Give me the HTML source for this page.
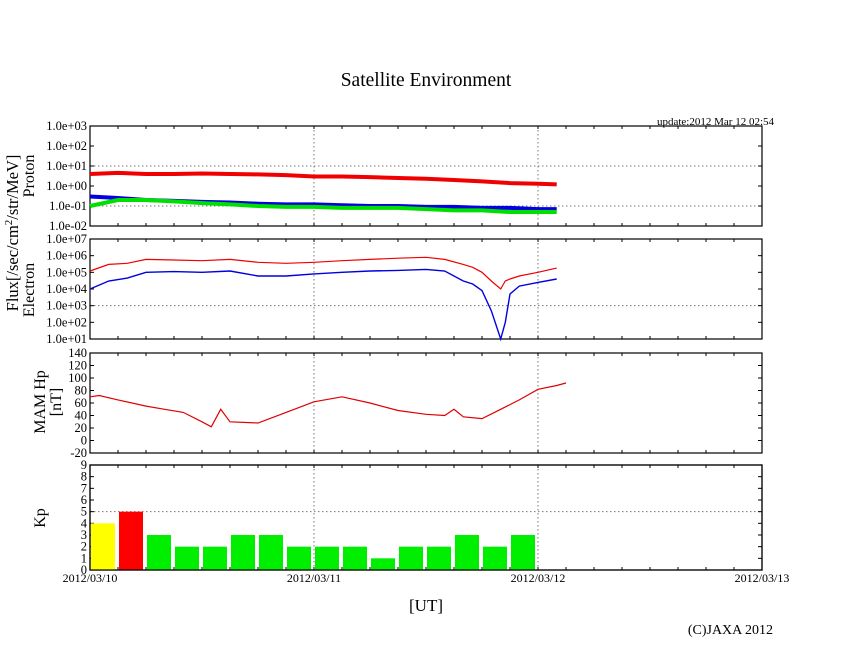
<!DOCTYPE html>
<html><head><meta charset="utf-8"><style>
body{margin:0;background:#fff}
svg text{font-family:"Liberation Serif",serif;fill:#000}
</style></head><body>
<svg id="c" width="846" height="655" xmlns="http://www.w3.org/2000/svg">
<text x="426" y="86" font-size="19.5" text-anchor="middle">Satellite Environment</text>
<text x="774" y="125" font-size="11" text-anchor="end">update:2012 Mar 12 02:54</text>
<text x="426" y="611" font-size="17" text-anchor="middle">[UT]</text>
<text x="773" y="634" font-size="14" text-anchor="end">(C)JAXA 2012</text>
<text transform="translate(18,233) rotate(-90)" font-size="16.5" text-anchor="middle">Flux[/sec/cm<tspan baseline-shift="super" font-size="11">2</tspan>/str/MeV]</text>
<text transform="translate(34,176) rotate(-90)" font-size="16" text-anchor="middle">Proton</text>
<text transform="translate(34,290) rotate(-90)" font-size="16" text-anchor="middle">Electron</text>
<text transform="translate(45,402) rotate(-90)" font-size="16" text-anchor="middle">MAM Hp</text>
<text transform="translate(61,402) rotate(-90)" font-size="16" text-anchor="middle">[nT]</text>
<text transform="translate(45,518) rotate(-90)" font-size="16" text-anchor="middle">Kp</text>
</svg>
<script>
const xTicks=["2012/03/10","2012/03/11","2012/03/12","2012/03/13"];
const protonLog=["1.0e-02","1.0e-01","1.0e+00","1.0e+01","1.0e+02","1.0e+03"];
const electronLog=["1.0e+01","1.0e+02","1.0e+03","1.0e+04","1.0e+05","1.0e+06","1.0e+07"];
const pT=[0,3,6,9,12,15,18,21,24,27,30,33,36,39,42,45,48,50];
const pRed=[4,4.5,4,4,4.2,4,3.8,3.5,3,3,2.8,2.5,2.3,2,1.7,1.4,1.3,1.2];
const pBlue=[0.3,0.25,0.2,0.18,0.16,0.15,0.13,0.12,0.12,0.11,0.1,0.1,0.09,0.09,0.08,0.08,0.07,0.07];
const pGreen=[0.1,0.2,0.2,0.17,0.14,0.12,0.1,0.09,0.09,0.08,0.08,0.08,0.07,0.06,0.06,0.05,0.05,0.05];
const eT=[0,2,4,6,9,12,15,18,21,24,27,30,33,36,38,40,41,42,43,44,44.5,45,46,48,50];
const eRed=[1.2e5,3e5,3.5e5,6e5,5.5e5,5e5,6e5,4e5,3.5e5,4e5,5e5,6e5,7e5,8e5,6e5,3e5,2e5,1e5,3e4,1e4,3e4,4e4,6e4,1e5,1.8e5];
const eBlue=[1e4,3e4,4.5e4,1e5,1.1e5,1e5,1.2e5,6e4,6e4,8e4,1e5,1.2e5,1.3e5,1.5e5,1.2e5,3e4,2e4,8e3,5e2,1e1,1e2,5e3,1.5e4,2.5e4,4e4];
const mT=[0,1,3,6,8,10,12,13,14,15,18,21,24,27,30,33,36,38,39,40,42,44,46,48,50,51];
const mVal=[70,72,65,55,50,45,30,22,50,30,28,45,62,70,60,48,42,40,50,38,35,50,65,82,88,92];
const kpVal=[4,5,3,2,2,3,3,2,2,2,1,2,2,3,2,3];
const NS="http://www.w3.org/2000/svg",svg=document.getElementById('c');
const X0=90,X1=762;
const xs=h=>X0+(X1-X0)*h/72;
function el(t,a,p){const e=document.createElementNS(NS,t);for(const k in a)e.setAttribute(k,a[k]);(p||svg).appendChild(e);return e;}
const panels=[{y0:126,y1:226,name:'proton'},{y0:239,y1:339,name:'electron'},{y0:353,y1:453,name:'mam'},{y0:465,y1:570,name:'kp'}];
function frame(p,ticksY,labels,grid){
  const g=el('g',{});
  
  
  [1,2].forEach(d=>{el('line',{x1:xs(d*24),x2:xs(d*24),y1:p.y0,y2:p.y1,stroke:'#777','stroke-dasharray':'1.5,2.5'},g);});
  grid.forEach(y=>el('line',{x1:X0,x2:X1,y1:y,y2:y,stroke:'#777','stroke-dasharray':'1.5,2.5'},g));
  for(let h=3;h<72;h+=3){el('line',{x1:xs(h),x2:xs(h),y1:p.y0,y2:p.y0+3,stroke:'#000'},g);el('line',{x1:xs(h),x2:xs(h),y1:p.y1,y2:p.y1-3,stroke:'#000'},g);}
  ticksY.forEach((y,i)=>{el('line',{x1:X0,x2:X0+4,y1:y,y2:y,stroke:'#000'},g);el('line',{x1:X1,x2:X1-4,y1:y,y2:y,stroke:'#000'},g);
    const t=el('text',{x:X0-3,y:y+4,'font-size':12.5,'text-anchor':'end'},g);t.textContent=labels[i];
    
    });
  el('rect',{x:X0,y:p.y0,width:X1-X0,height:p.y1-p.y0,fill:'none',stroke:'#000','stroke-width':1.2},g);
  return g;
}
function line(ts,vs,fx,fy,col,w,name){
  const d=ts.map((t,i)=>(i?'L':'M')+fx(t).toFixed(1)+','+fy(vs[i]).toFixed(1)).join('');
  const p=el('path',{d:d,fill:'none',stroke:col,'stroke-width':w});
  
  
}
let P=panels[0];const pY=v=>P.y1-(Math.log10(v)+2)/5*(P.y1-P.y0);
frame(P,protonLog.map((_,i)=>P.y1-i*(P.y1-P.y0)/5),protonLog,[pY(10),pY(0.1)]);
line(pT,pBlue,xs,pY,'#0000e0',4,'proton-blue-line');
line(pT,pGreen,xs,pY,'#00e000',4,'proton-green-line');
line(pT,pRed,xs,pY,'#f00000',4,'proton-red-line');
let E=panels[1];const eY=v=>E.y1-(Math.log10(v)-1)/6*(E.y1-E.y0);
frame(E,electronLog.map((_,i)=>E.y1-i*(E.y1-E.y0)/6),electronLog,[eY(1e3)]);
line(eT,eRed,xs,eY,'#f00000',1.2,'electron-red-line');
line(eT,eBlue,xs,eY,'#0000e0',1.4,'electron-blue-line');
let M=panels[2];const mY=v=>M.y1-(v+20)/160*(M.y1-M.y0);
const mL=[];for(let v=-20;v<=140;v+=20)mL.push(String(v));
frame(M,mL.map(v=>mY(+v)),mL,[]);
line(mT,mVal,xs,mY,'#e00000',1.2,'mam-hp-line');
let K=panels[3];const kY=v=>K.y1-v/9*(K.y1-K.y0);
const kL=[];for(let v=0;v<=9;v++)kL.push(String(v));
frame(K,kL.map(v=>kY(+v)),kL,[kY(5)]);
kpVal.forEach((v,i)=>{const col=v>=5?'#ff0000':v>=4?'#ffff00':'#00ee00';
  const r=el('rect',{x:xs(i*3)+1,y:kY(v),width:xs(3)-xs(0)-4,height:K.y1-kY(v),fill:col});
  
  });
el('rect',{x:X0,y:K.y0,width:X1-X0,height:K.y1-K.y0,fill:'none',stroke:'#000','stroke-width':1.2});
xTicks.forEach((t,i)=>{const e=el('text',{x:xs(i*24),y:582,'font-size':12,'text-anchor':'middle'});e.textContent=t;
  
  });
</script>
</body></html>
